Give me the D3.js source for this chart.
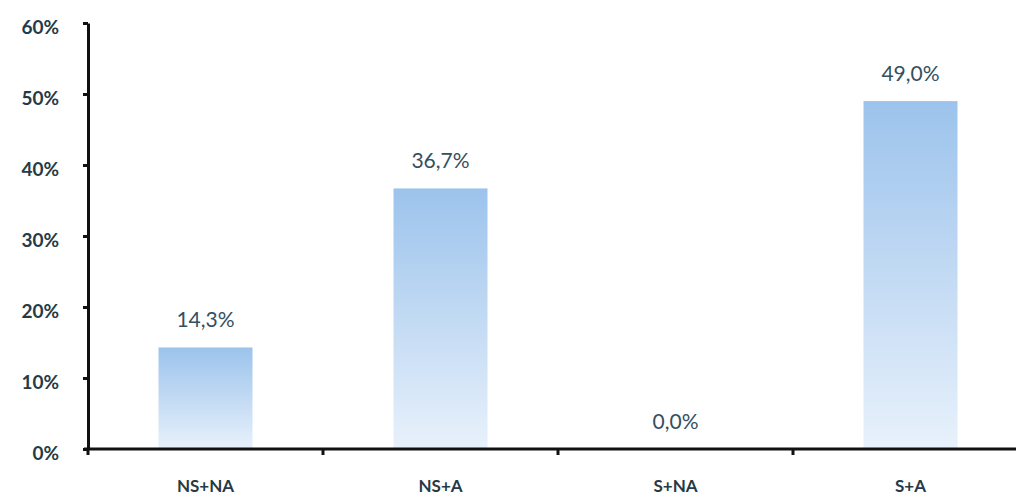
<!DOCTYPE html>
<html><head><meta charset="utf-8">
<script src="https://cdn.jsdelivr.net/npm/d3@7"></script>
<style>body{margin:0;background:#fff}svg{display:block}</style>
</head><body>
<script>
const categories = ["NS+NA", "NS+A", "S+NA", "S+A"];
const values = [14.3, 36.7, 0.0, 49.0];
const valueLabels = ["14,3%", "36,7%", "0,0%", "49,0%"];
const yTicks = [0, 10, 20, 30, 40, 50, 60];

const W = 1016, H = 496;
const m = {left: 88, top: 23, bottom: 47};
const plotRight = 1028;
const svg = d3.select("body").append("svg").attr("width", W).attr("height", H);

const defs = svg.append("defs");
const grad = defs.append("linearGradient").attr("id", "g").attr("x1", 0).attr("y1", 0).attr("x2", 0).attr("y2", 1);
grad.append("stop").attr("offset", "0%").attr("stop-color", "#9cc3ec");
grad.append("stop").attr("offset", "100%").attr("stop-color", "#e8f1fb");

const xb = d3.scaleBand().domain(categories).range([m.left, plotRight]);
const y = d3.scaleLinear().domain([0, 60]).range([H - m.bottom, m.top]);

svg.selectAll("rect.bar").data(values).join("rect")
  .attr("x", (d, i) => xb(categories[i]) + xb.bandwidth() / 2 - 47)
  .attr("width", 94)
  .attr("y", d => y(d))
  .attr("height", d => y(0) - y(d))
  .attr("fill", "url(#g)");

svg.selectAll("text.val").data(values).join("text")
  .attr("x", (d, i) => xb(categories[i]) + xb.bandwidth() / 2)
  .attr("y", d => y(d) - 20)
  .attr("text-anchor", "middle")
  .attr("font-family", "Lato, 'Open Sans', sans-serif")
  .attr("font-size", 21)
  .attr("fill", "#33505f")
  .text((d, i) => valueLabels[i]);

// y axis
const yAxis = svg.append("g").attr("transform", `translate(${m.left},0)`)
  .call(d3.axisLeft(y).tickValues(yTicks).tickFormat(d => d + "%").tickSize(5).tickSizeOuter(0).tickPadding(24));
yAxis.select(".domain").attr("stroke", "#111").attr("stroke-width", 3);
yAxis.selectAll(".tick line").attr("stroke", "#111").attr("stroke-width", 3);
yAxis.selectAll("text").attr("font-family", "Lato, 'Open Sans', sans-serif").attr("font-weight", "bold")
  .attr("font-size", 19).attr("fill", "#263a46").attr("y", 4);

// x axis line with boundary ticks
const xAxisG = svg.append("g").attr("transform", `translate(0,${y(0)})`);
xAxisG.append("line").attr("x1", m.left - 4).attr("x2", W).attr("stroke", "#111").attr("stroke-width", 3);
xAxisG.selectAll("line.t").data(categories).join("line")
  .attr("x1", d => xb(d)).attr("x2", d => xb(d)).attr("y1", 0).attr("y2", 6)
  .attr("stroke", "#111").attr("stroke-width", 3);
xAxisG.selectAll("text").data(categories).join("text")
  .attr("x", d => xb(d) + xb.bandwidth() / 2)
  .attr("y", 43)
  .attr("text-anchor", "middle")
  .attr("font-family", "Lato, 'Open Sans', sans-serif")
  .attr("font-weight", "bold")
  .attr("font-size", 17)
  .attr("fill", "#263a46")
  .text(d => d);
</script>
</body></html>
